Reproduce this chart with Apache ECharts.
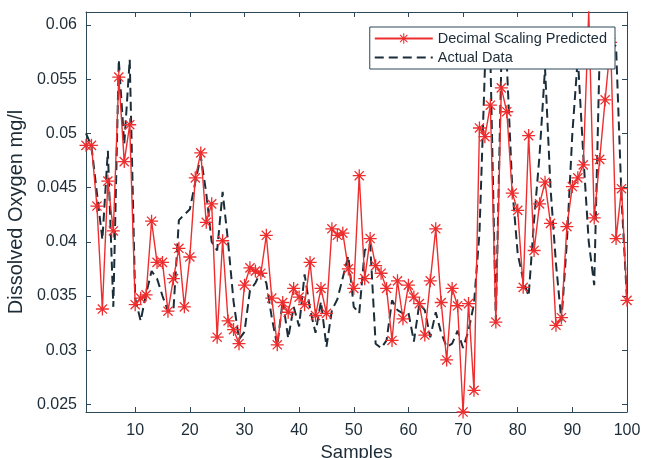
<!DOCTYPE html>
<html>
<head>
<meta charset="utf-8">
<script src="https://cdn.jsdelivr.net/npm/echarts@6/dist/echarts.min.js"></script>
<style>
  html, body { margin: 0; padding: 0; background: #fff; }
  #chart { width: 650px; height: 458px; }
</style>
</head>
<body>
<div id="chart"></div>
<script>
// values, sample 1..100
const predicted = [
  0.0489, 0.0489, 0.0433, 0.0338, 0.0456, 0.0410, 0.0552, 0.0474, 0.0508, 0.0342,
  0.0348, 0.0351, 0.0419, 0.0381, 0.0381, 0.0336, 0.0366, 0.0394, 0.0340, 0.0386,
  0.0459, 0.0482, 0.0418, 0.0435, 0.0312, 0.0401, 0.0327, 0.0319, 0.0306, 0.0360,
  0.0376, 0.0373, 0.0371, 0.0406, 0.0348, 0.0305, 0.0344, 0.0335, 0.0357, 0.0349,
  0.0342, 0.0381, 0.0332, 0.0357, 0.0334, 0.0412, 0.0406, 0.0408, 0.0375, 0.0357,
  0.0461, 0.0366, 0.0403, 0.0378, 0.0371, 0.0357, 0.0309, 0.0364, 0.0329, 0.0360,
  0.0349, 0.0343, 0.0314, 0.0364, 0.0412, 0.0344, 0.0291, 0.0357, 0.0341, 0.0243,
  0.0343, 0.0263, 0.0505, 0.0497, 0.0526, 0.0326, 0.0542, 0.0520, 0.0445, 0.0429,
  0.0358, 0.0498, 0.0392, 0.0435, 0.0455, 0.0417, 0.0323, 0.0330, 0.0414, 0.0451,
  0.0459, 0.0471, 0.0613, 0.0422, 0.0476, 0.0531, 0.0584, 0.0403, 0.0449, 0.0346
]
const actual = [
  0.0500, 0.0488, 0.0445, 0.0402, 0.0484, 0.0340, 0.0568, 0.0490, 0.0568, 0.0348,
  0.0327, 0.0352, 0.0373, 0.0366, 0.0350, 0.0336, 0.0337, 0.0420, 0.0425, 0.0430,
  0.0455, 0.0479, 0.0445, 0.0400, 0.0392, 0.0446, 0.0400, 0.0345, 0.0310, 0.0317,
  0.0355, 0.0362, 0.0373, 0.0362, 0.0330, 0.0304, 0.0346, 0.0311, 0.0340, 0.0322,
  0.0370, 0.0338, 0.0316, 0.0345, 0.0303, 0.0337, 0.0347, 0.0367, 0.0387, 0.0340,
  0.0334, 0.0392, 0.0398, 0.0306, 0.0302, 0.0309, 0.0346, 0.0337, 0.0334, 0.0335,
  0.0308, 0.0343, 0.0337, 0.0312, 0.0335, 0.0316, 0.0303, 0.0306, 0.0318, 0.0302,
  0.0318, 0.0343, 0.0408, 0.0560, 0.0570, 0.0328, 0.0565, 0.0565, 0.0450, 0.0389,
  0.0365, 0.0350, 0.0420, 0.0480, 0.0560, 0.0450, 0.0380, 0.0327, 0.0400, 0.0500,
  0.0570, 0.0480, 0.0400, 0.0360, 0.0575, 0.0580, 0.0585, 0.0580, 0.0440, 0.0346
]
const xTicks = [10, 20, 30, 40, 50, 60, 70, 80, 90, 100]
const yTicks = [0.025, 0.03, 0.035, 0.04, 0.045, 0.05, 0.055, 0.06]

const axisColor = '#2b4758'
const textColor = '#1c2b36'
const red = '#ee2e2e'
const dark = '#1b2d38'
const font = 'Liberation Sans, Arial'

// matlab style '*' marker (plus + cross)
const starPath = 'path://M0,9L20,9L20,11L0,11Z M9,0L11,0L11,20L9,20Z ' +
  'M3.64,2.22L17.78,16.36L16.36,17.78L2.22,3.64Z M16.36,2.22L17.78,3.64L3.64,17.78L2.22,16.36Z'

const toPoints = (arr) => arr.map((v, i) => [i + 1, v])

function fmtTick(v) {
  return String(Math.round(v * 1000) / 1000)
}

const baseAxis = {
  axisLine: { show: true, lineStyle: { color: axisColor, width: 1 } },
  splitLine: { show: false },
}

const option = {
  backgroundColor: '#fff',
  animation: false,
  grid: { left: 86, right: 23, top: 12, bottom: 46, containLabel: false, outerBoundsMode: 'none' },
  legend: {
    orient: 'vertical',
    right: 35,
    top: 27,
    padding: [4, 8, 4, 4],
    itemGap: 4,
    itemWidth: 58,
    itemHeight: 13,
    borderColor: axisColor,
    borderWidth: 1,
    backgroundColor: '#fff',
    textStyle: { color: textColor, fontSize: 14.5, fontFamily: font },
    data: [
      { name: 'Decimal Scaling Predicted' },
      { name: 'Actual Data', itemStyle: { opacity: 0 } },
    ],
  },
  xAxis: [
    {
      ...baseAxis,
      type: 'value',
      min: 1,
      max: 100,
      name: 'Samples',
      nameLocation: 'middle',
      nameGap: 30,
      nameTextStyle: { color: textColor, fontSize: 18.5, fontFamily: font },
      axisTick: { inside: true, length: 5, lineStyle: { color: axisColor }, customValues: xTicks },
      axisLabel: {
        color: textColor, fontSize: 16, margin: 11, fontFamily: font,
        customValues: xTicks,
      },
    },
    {
      ...baseAxis,
      type: 'value',
      position: 'top',
      min: 1,
      max: 100,
      axisTick: { inside: true, length: 5, lineStyle: { color: axisColor }, customValues: xTicks },
      axisLabel: { show: false },
    },
  ],
  yAxis: [
    {
      ...baseAxis,
      type: 'value',
      min: 0.0243,
      max: 0.0612,
      name: 'Dissolved Oxygen mg/l',
      nameLocation: 'middle',
      nameGap: 56,
      nameTextStyle: { color: textColor, fontSize: 20, fontFamily: font },
      axisTick: { inside: true, length: 5, lineStyle: { color: axisColor }, customValues: yTicks },
      axisLabel: {
        color: textColor, fontSize: 16, margin: 9, fontFamily: font,
        customValues: yTicks,
        formatter: fmtTick,
      },
    },
    {
      ...baseAxis,
      type: 'value',
      position: 'right',
      min: 0.0243,
      max: 0.0612,
      axisTick: { inside: true, length: 5, lineStyle: { color: axisColor }, customValues: yTicks },
      axisLabel: { show: false },
    },
  ],
  series: [
    {
      name: 'Decimal Scaling Predicted',
      type: 'line',
      xAxisIndex: 0,
      yAxisIndex: 0,
      data: toPoints(predicted),
      symbol: starPath,
      symbolSize: 13,
      showAllSymbol: true,
      lineStyle: { color: red, width: 1.4 },
      itemStyle: { color: red },
      z: 3,
    },
    {
      name: 'Actual Data',
      type: 'line',
      xAxisIndex: 0,
      yAxisIndex: 0,
      data: toPoints(actual),
      symbol: 'none',
      lineStyle: { color: dark, width: 2, type: [9, 5] },
      itemStyle: { color: dark },
      z: 2,
    },
  ],
}

const chart = echarts.init(document.getElementById('chart'), null, { renderer: 'canvas' })
chart.setOption(option)
</script>
</body>
</html>
